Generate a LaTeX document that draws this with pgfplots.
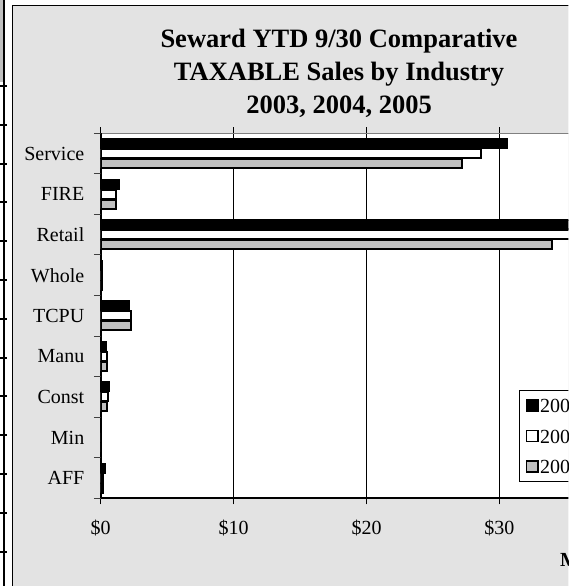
\documentclass[border=0pt]{standalone}
\usepackage{pgfplots}
\pgfplotsset{compat=1.18}
\usepackage{fontspec}
\setmainfont{Liberation Serif}
\definecolor{chartgray}{HTML}{E3E3E3}
\definecolor{barsilver}{HTML}{C0C0C0}
\definecolor{plotborder}{HTML}{808080}
\begin{document}
\begin{tikzpicture}
\path[use as bounding box] (0pt,0pt) rectangle (582pt,-586pt);
\fill[white] (0pt,0pt) rectangle (582pt,-586pt);
% remnant of neighbouring object at the left edge
\fill[barsilver] (0pt,0pt) rectangle (4.3pt,-82pt);
\draw[line width=2pt] (4.3pt,0pt) -- (4.3pt,-586pt);
\foreach \yy in {86,124.8,...,560} \draw[line width=2pt] (0pt,-\yy pt) -- (6.5pt,-\yy pt);
\begin{scope}
\clip (0pt,0pt) rectangle (568.3pt,-586pt);
\filldraw[fill=chartgray, draw=black, line width=1pt] (12pt,-6pt) rectangle (700pt,-700pt);
\node[font=\fontsize{26.5}{33}\selectfont\bfseries, anchor=base, inner sep=0pt] at (339pt,-47.7pt) {Seward YTD 9/30 Comparative};
\node[font=\fontsize{26.5}{33}\selectfont\bfseries, anchor=base, inner sep=0pt] at (339pt,-80.9pt) {TAXABLE Sales by Industry};
\node[font=\fontsize{26.5}{33}\selectfont\bfseries, anchor=base, inner sep=0pt] at (339pt,-113.8pt) {2003, 2004, 2005};
\begin{axis}[
  at={(100.7pt,-498.3pt)}, anchor=south west,
  scale only axis, width=531.6pt, height=365pt,
  xmin=0, xmax=40, ymin=-0.5, ymax=8.5,
  xbar, bar width=9pt,
  axis background/.style={fill=white},
  axis line style={draw=none},
  xtick={0,10,20,30,40}, xticklabels={\$0,\$10,\$20,\$30,\$40},
  xmajorgrids, major grid style={black, line width=0.9pt},
  ytick={0,...,8},
  yticklabels={AFF,Min,Const,Manu,TCPU,Whole,Retail,FIRE,Service},
  minor ytick={-0.5,0.5,...,8.5},
  tick align=outside,
  major tick length=6pt, minor tick length=6.7pt,
  every major y tick/.style={draw=none},
  every minor y tick/.style={draw=black!75, line width=1pt},
  every major x tick/.style={draw=black, line width=1pt},
  tick label style={font=\fontsize{20}{24}\selectfont},
  yticklabel style={inner xsep=0pt, anchor=east, xshift=-10.2pt},
  xticklabel style={inner sep=0pt, anchor=base, yshift=-30pt},
  xlabel={\bfseries Millions},
  xlabel style={at={(axis description cs:0.864,-0.1855)}, anchor=base west, inner sep=0pt, font=\fontsize{20}{24}\selectfont},
  legend style={at={(0.7869,0.2967)}, anchor=north west, draw=black, line width=1pt, fill=white,
    inner xsep=6pt, inner ysep=5pt, row sep=10.5pt, font=\fontsize{20}{24}\selectfont,
    nodes={inner xsep=1.5pt, inner ysep=0pt, text height=17pt, text depth=3pt}, cells={anchor=west}},
  legend image code/.code={\draw[#1, line width=1.6pt] (0.8pt,-5.5pt) rectangle (12.2pt,5.5pt);},
]
\addplot[fill=black, draw=black, line width=2pt, bar shift=10pt] coordinates {
 (0.30,0) (0,1) (0.60,2) (0.38,3) (2.14,4) (0.12,5) (38.0,6) (1.38,7) (30.55,8)};
\addplot[fill=white, draw=black, line width=2pt, bar shift=0pt] coordinates {
 (0.20,0) (0,1) (0.56,2) (0.48,3) (2.31,4) (0.08,5) (36.5,6) (1.18,7) (28.58,8)};
\addplot[fill=barsilver, draw=black, line width=2pt, bar shift=-10pt] coordinates {
 (0.20,0) (0,1) (0.50,2) (0.48,3) (2.28,4) (0.08,5) (33.92,6) (1.18,7) (27.15,8)};
\legend{2005,2004,2003}
\draw[plotborder, line width=1.5pt] (rel axis cs:0,1) -- (rel axis cs:1,1);
\draw[black, line width=2pt] (rel axis cs:0,0) -- (rel axis cs:0,1);
\draw[black, line width=1.7pt] (rel axis cs:0,0) -- (rel axis cs:1,0);
\end{axis}
\end{scope}
\end{tikzpicture}
\end{document}
